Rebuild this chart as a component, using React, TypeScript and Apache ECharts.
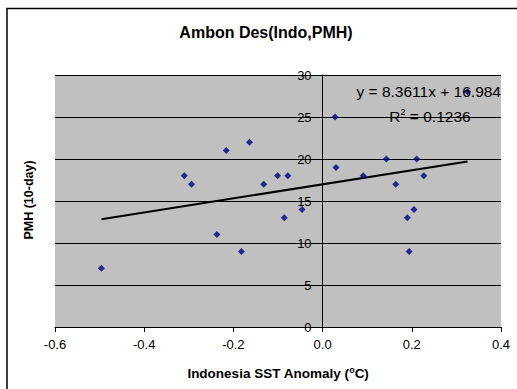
import React, { useEffect, useRef } from "react";
import * as echarts from "echarts";

const sstAnomaly = [-0.496, -0.31, -0.294, -0.237, -0.216, -0.182, -0.164, -0.132, -0.101, -0.086, -0.078, -0.046, 0.028, 0.03, 0.091, 0.143, 0.164, 0.19, 0.194, 0.205, 0.211, 0.227, 0.325];
const pmh = [7, 18, 17, 11, 21, 9, 22, 17, 18, 13, 18, 14, 25, 19, 18, 20, 17, 13, 9, 14, 20, 18, 28];
const trendSlope = 8.3611;
const trendIntercept = 16.984;
const rSquared = 0.1236;
const titleText = "Ambon Des(Indo,PMH)";
const yTitle = "PMH (10-day)";

const FONT = "'Liberation Sans', Arial, sans-serif";
const GRID_LEFT = 55;

export default function App() {
  const ref = useRef<HTMLDivElement>(null);
  useEffect(() => {
    if (!ref.current) return;
    const chart = echarts.init(ref.current, null, { renderer: "svg" });
    const points = sstAnomaly.map((x, i) => [x, pmh[i]]);
    const xMin = Math.min(...sstAnomaly);
    const xMax = Math.max(...sstAnomaly);
    const trend = [
      [xMin, trendSlope * xMin + trendIntercept],
      [xMax, trendSlope * xMax + trendIntercept],
    ];
    chart.setOption({
      animation: false,
      backgroundColor: "#ffffff",
      textStyle: { fontFamily: FONT },
      grid: { left: GRID_LEFT, right: 16, top: 75, bottom: 62, show: true, backgroundColor: "#C0C0C0", borderWidth: 0 },
      graphic: [
        {
          type: "rect",
          z: -10,
          silent: true,
          shape: { x: 7, y: 8.5, width: 530, height: 400 },
          style: { fill: "#ffffff", stroke: "#000000", lineWidth: 1.5 },
        },
        {
          type: "text",
          x: 266,
          y: 32,
          style: { text: titleText, fontFamily: FONT, fontSize: 16, fontWeight: "bold", fill: "#000", align: "center", verticalAlign: "middle" },
        },
        {
          type: "text",
          x: 29,
          y: 200,
          rotation: Math.PI / 2,
          style: { text: yTitle, fontFamily: FONT, fontSize: 12.5, fontWeight: "bold", fill: "#000", align: "center", verticalAlign: "middle" },
        },
        {
          type: "text",
          x: 501,
          y: 91,
          z: 10,
          style: {
            text: `y = ${trendSlope}x + ${trendIntercept}`,
            fontFamily: FONT, fontSize: 15.5, fill: "#000", align: "right", verticalAlign: "middle",
          },
        },
        {
          type: "text",
          x: 430,
          y: 116,
          z: 10,
          style: {
            text: `R{sup|2} = ${rSquared}`,
            fontFamily: FONT, fontSize: 15.5, fill: "#000", align: "center", verticalAlign: "middle",
            rich: { sup: { fontSize: 9, verticalAlign: "top", padding: [0, 0, 8, 0], fontFamily: FONT } },
          },
        },
      ],
      xAxis: {
        type: "value",
        min: -0.6,
        max: 0.4,
        interval: 0.2,
        name: "Indonesia SST Anomaly ({sup|o}C)",
        nameLocation: "middle",
        nameGap: 38,
        nameTextStyle: {
          fontFamily: FONT, fontSize: 13.5, fontWeight: "bold", color: "#000",
          rich: { sup: { fontSize: 9, fontWeight: "bold", padding: [0, 0, 7, 0], fontFamily: FONT, color: "#000" } },
        },
        axisLine: { show: true, onZero: false, lineStyle: { color: "#000", width: 1 } },
        axisTick: { show: true, inside: false, length: 5, lineStyle: { color: "#000" } },
        axisLabel: { fontFamily: FONT, fontSize: 13, color: "#000", margin: 11, formatter: (v: number) => v.toFixed(1) },
        splitLine: { show: false },
      },
      yAxis: {
        type: "value",
        min: 0,
        max: 30,
        interval: 5,
        offset: 0,
        axisLine: { show: true, onZero: false, lineStyle: { color: "#000", width: 1 } },
        axisTick: { show: true, inside: false, length: 5, lineStyle: { color: "#000" } },
        axisLabel: { fontFamily: FONT, fontSize: 13, color: "#000", margin: 11 },
        splitLine: { show: true, lineStyle: { color: "#000", width: 1 } },
      },
      series: [
        {
          type: "line",
          data: trend,
          showSymbol: false,
          symbol: "none",
          lineStyle: { color: "#000", width: 2 },
          z: 2,
          silent: true,
        },
        {
          type: "scatter",
          data: points,
          symbol: "diamond",
          symbolSize: 7,
          itemStyle: { color: "#000080" },
          z: 3,
        },
      ],
    });
    // Move the y axis (line, ticks, labels) to x = 0, as in the reference.
    const zeroX = chart.convertToPixel({ xAxisIndex: 0 }, 0) as number;
    chart.setOption({ yAxis: { offset: -(zeroX - GRID_LEFT) } });
    return () => chart.dispose();
  }, []);
  return <div ref={ref} style={{ position: "fixed", left: 0, top: 0, width: 517, height: 389 }} />;
}
